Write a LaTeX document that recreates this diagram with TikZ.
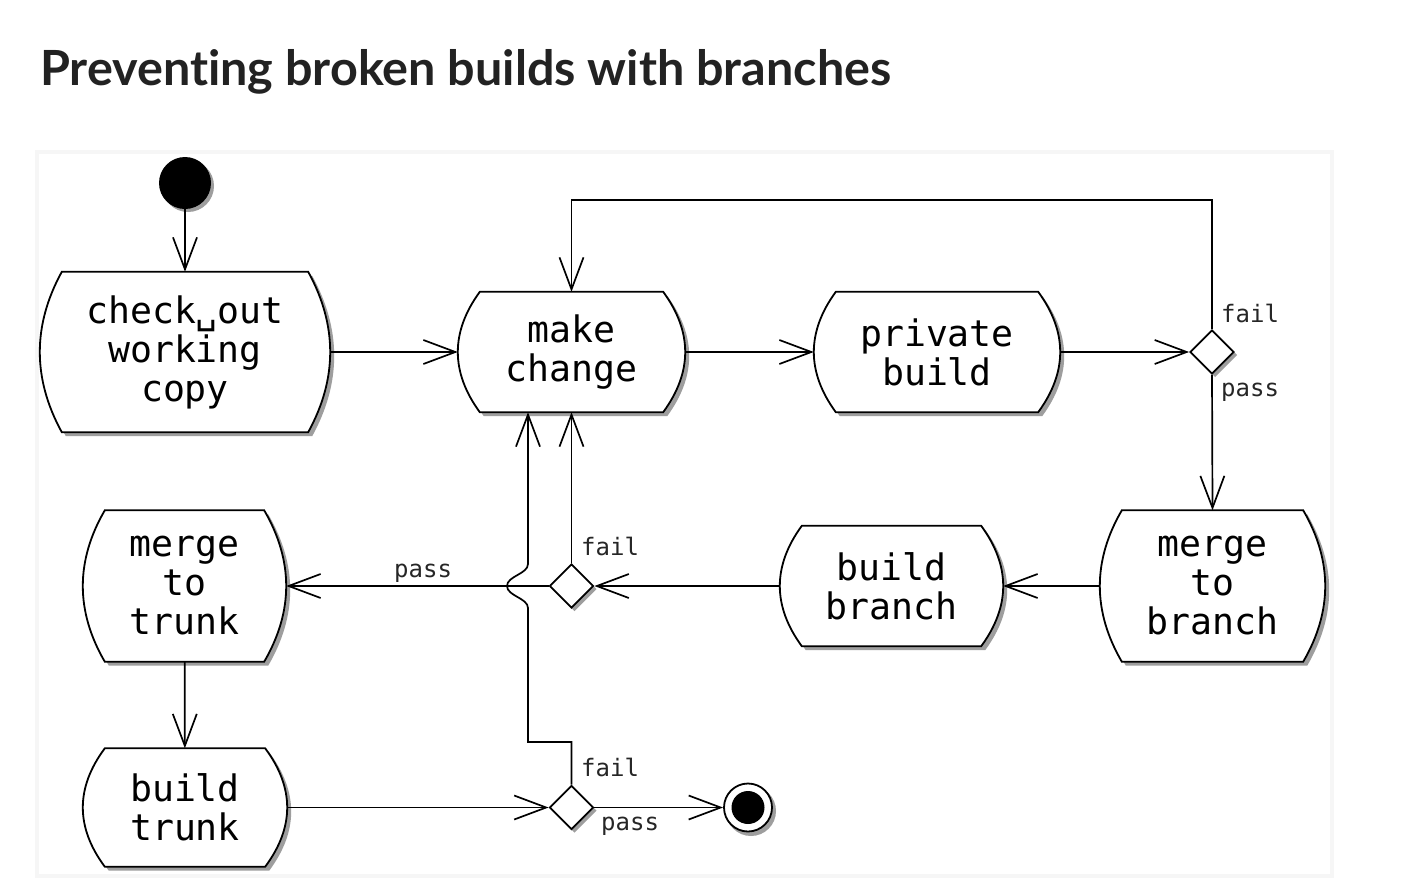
\documentclass[tikz,border=0pt]{standalone}
\usepackage{fontspec}
\usetikzlibrary{shapes.geometric,arrows.meta,calc,backgrounds}
\newfontfamily\monof{DejaVu Sans Mono}
\newfontfamily\titlef{Lato}[Ligatures=NoCommon]
\definecolor{shadowc}{gray}{0.62}
\definecolor{titlec}{HTML}{222222}
\tikzset{
  act/.style={rectangle, inner sep=0pt, align=center,
    font=\monof\fontsize{36.5}{39}\selectfont},
  actline/.style={draw=black, line width=1.8pt, fill=white},
  actshadow/.style={fill=shadowc},
  dia/.style={diamond, draw=black, line width=1.8pt, fill=white, inner sep=0pt,
    minimum width=44pt, minimum height=44pt},
  lbl/.style={inner sep=0pt, font=\monof\fontsize{24}{24}\selectfont, text=black!85},
  arr/.style={line width=1.7pt, -{Straight Barb[length=32pt, width=24pt]}},
}
\begin{document}
\begin{tikzpicture}[x=1pt, y=-1pt]
\useasboundingbox (0,0) rectangle (1418,889);
% title
\node[anchor=base west, inner sep=0pt, text=titlec,
  font=\titlef\bfseries\fontsize{48.5}{48.5}\selectfont] (title) at (40,85)
  {Preventing broken builds with branches};

% activity nodes
\node[act, minimum width=290pt, minimum height=160pt] (co)  at (185,352)   {check␣out\\working\\copy};
\node[act, minimum width=227pt, minimum height=120pt] (mc)  at (571.5,352) {make\\change};
\node[act, minimum width=246pt, minimum height=120pt] (pb)  at (937,352)   {private\\build};
\node[act, minimum width=225pt, minimum height=151pt] (mgb) at (1212.5,586) {merge\\to\\branch};
\node[act, minimum width=223pt, minimum height=120pt] (bb)  at (891.5,586) {build\\branch};
\node[act, minimum width=203pt, minimum height=151pt] (mgt) at (184.5,586) {merge\\to\\trunk};
\node[act, minimum width=204pt, minimum height=118pt] (bt)  at (185,807.5) {build\\trunk};

\begin{pgfonlayer}{background}
\fill[white] (0,0) rectangle (1418,889);
\fill[gray!7] (35,150) rectangle (1334,878);
\fill[white] (39,154) rectangle (1330,874);
\foreach \n in {co,mc,pb,mgb,bb,mgt,bt}{
  \foreach \d/\st in {4/actshadow,0/actline}{
    \path[\st]
      ($(\n.north west)+(22+\d,\d)$) -- ($(\n.north east)+(-22+\d,\d)$)
      .. controls ($(\n.north east)!0.6667!(\n.east)+(7.33+\d,\d)$)
             and ($(\n.south east)!0.6667!(\n.east)+(7.33+\d,\d)$)
      .. ($(\n.south east)+(-22+\d,\d)$)
      -- ($(\n.south west)+(22+\d,\d)$)
      .. controls ($(\n.south west)!0.6667!(\n.west)+(-7.33+\d,\d)$)
             and ($(\n.north west)!0.6667!(\n.west)+(-7.33+\d,\d)$)
      .. cycle;
  }
}
\end{pgfonlayer}

% decisions
\fill[shadowc] (1212+3,330+3) -- (1234+3,352+3) -- (1212+3,374+3) -- (1190+3,352+3) -- cycle;
\fill[shadowc] (571.5+3,564+3) -- (593.5+3,586+3) -- (571.5+3,608+3) -- (549.5+3,586+3) -- cycle;
\fill[shadowc] (571.5+3,785.5+3) -- (593.5+3,807.5+3) -- (571.5+3,829.5+3) -- (549.5+3,807.5+3) -- cycle;
\node[dia] (d1) at (1212,352) {};
\node[dia] (d2) at (571.5,586) {};
\node[dia] (d3) at (571.5,807.5) {};

% start / end
\fill[shadowc] (188,186) circle[radius=26];
\node[circle, fill=black, inner sep=0pt, minimum size=52pt] (start) at (185,183) {};
\fill[shadowc] (751,811) circle[radius=25];
\node[circle, draw=black, line width=1.8pt, fill=white, inner sep=0pt, minimum size=48pt] (end) at (748,807.5) {};
\fill[black] (end.center) circle[radius=16.5];

% connectors
\draw[arr] (start) -- (co);
\draw[arr] (co) -- (mc);
\draw[arr] (mc) -- (pb);
\draw[arr] (pb) -- (d1);
\draw[arr] (d1.north) -- ++(0,-129) -| (mc.north);
\draw[arr] (d1.south) -- (mgb.north);
\draw[arr] (mgb) -- (bb);
\draw[arr] (bb) -- (d2);
\draw[arr] (d2.north) -- (mc.south);
\draw[arr] (d2.west) -- (mgt.east);
\draw[arr] (mgt) -- (bt);
\draw[arr] (bt) -- (d3);
\draw[arr] (d3) -- (end);
\coordinate (jx) at (528,742);
\draw[arr] (d3.north) |- (jx)
  -- ($(jx |- d2.west)+(0,22)$)
  .. controls +(0,-10) and +(0,10) .. ($(jx |- d2.west)+(-21,0)$)
  .. controls +(0,-10) and +(0,10) .. ($(jx |- d2.west)+(0,-22)$)
  -- (jx |- mc.south);

% labels
\node[lbl, anchor=base west] (l1) at (1221,322) {fail};
\node[lbl, anchor=base west] (l2) at (1221,396) {pass};
\node[lbl, anchor=base west] (l3) at (581,555) {fail};
\node[lbl, anchor=base west] (l4) at (394,577) {pass};
\node[lbl, anchor=base west] (l5) at (581,776) {fail};
\node[lbl, anchor=base west] (l6) at (601,830) {pass};
\end{tikzpicture}
\end{document}
